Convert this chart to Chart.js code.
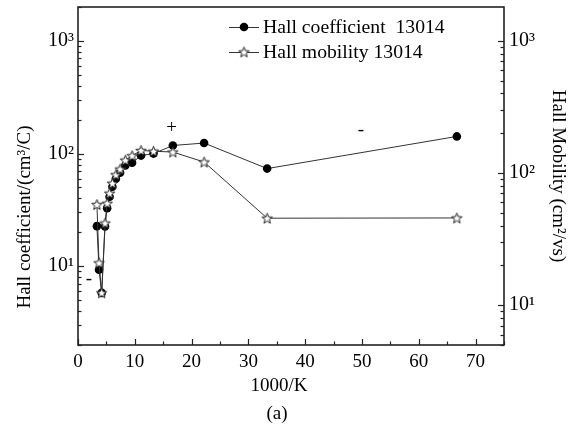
<!DOCTYPE html>
<html>
<head>
<meta charset="utf-8">
<script src="https://cdn.jsdelivr.net/npm/chart.js@4"></script>
<style>
  html, body { margin: 0; padding: 0; background: #fff; }
  #wrap { width: 574px; height: 427px; }
</style>
</head>
<body>
<div id="wrap"><canvas id="hallChart"></canvas></div>
<script>
// 1000/K values (shared by both series)
const invTemp = [3.33, 3.7, 4.17, 4.76, 5.13, 5.56, 6.06, 6.67, 7.41, 8.33, 9.52, 11.1, 13.3, 16.7, 22.2, 33.3, 66.7];
// Hall coefficient (cm3/C), left axis
const hallCoeff = [22.7, 9.3, 5.8, 22.5, 32.8, 41.4, 50.7, 59.7, 67.5, 78.3, 82.8, 96, 100, 118, 124, 73.6, 142];
// Hall mobility (cm2/vs), right axis
const hallMobility = [57.7, 20.9, 12.4, 41.8, 59, 70.3, 83.6, 97, 107, 125, 135, 148, 146, 144, 121, 45.5, 45.7];

const xTicks = [0, 10, 20, 30, 40, 50, 60, 70];
const logTicks = [10, 100, 1000];
const seriesLabels = ["Hall coefficient  13014", "Hall mobility 13014"];
// sign marks in data units of the left axis
const signMarks = [
  { text: "+", x: 16.5, y: 170 },
  { text: "-", x: 49.8, y: 163 },
  { text: "-", x: 1.9, y: 7.7 },
];

const FONT = "'Liberation Serif', 'Times New Roman', serif";
const sup = { 1: "\u00b9", 2: "\u00b2", 3: "\u00b3" };

// open five-point star marker
function makeStar(size) {
  const c = document.createElement("canvas");
  c.width = size;
  c.height = size;
  const g = c.getContext("2d");
  const cx = size / 2, cy = size / 2 + 0.5;
  const ro = size / 2 - 1, ri = ro * 0.42;
  g.beginPath();
  for (let i = 0; i < 10; i++) {
    const r = i % 2 === 0 ? ro : ri;
    const a = -Math.PI / 2 + (i * Math.PI) / 5;
    const px = cx + r * Math.cos(a), py = cy + r * Math.sin(a);
    if (i === 0) g.moveTo(px, py); else g.lineTo(px, py);
  }
  g.closePath();
  g.fillStyle = "#fff";
  g.fill();
  g.lineWidth = 1;
  g.strokeStyle = "#222";
  g.stroke();
  return c;
}
const starImg = makeStar(13);

function drawLogTicks(ctx, scale, xEdge, dir) {
  for (let d = 1; d <= 1000; d *= 10) {
    for (let m = 1; m <= 9; m++) {
      const v = m * d;
      if (v < scale.min || v > scale.max) continue;
      const y = Math.round(scale.getPixelForValue(v)) + 0.5;
      const len = m === 1 ? 6 : 3.5;
      ctx.beginPath();
      ctx.moveTo(xEdge, y);
      ctx.lineTo(xEdge + dir * len, y);
      ctx.stroke();
    }
  }
}

// no extra room for half-labels at the axis ends
function noPad(s) {
  s.paddingTop = 0;
  s.paddingBottom = 0;
  s.paddingLeft = 0;
  s.paddingRight = 0;
}

const decorations = {
  id: "decorations",
  afterDraw(chart) {
    const { ctx, chartArea: a, scales } = chart;
    ctx.save();
    // frame
    ctx.strokeStyle = "#222";
    ctx.lineWidth = 1.6;
    ctx.strokeRect(a.left, a.top, a.right - a.left, a.bottom - a.top);

    // inward ticks
    ctx.lineWidth = 1.2;
    for (let v = 0; v <= scales.x.max; v += 5) {
      const x = Math.round(scales.x.getPixelForValue(v)) + 0.5;
      const len = v % 10 === 0 ? 6 : 3.5;
      ctx.beginPath();
      ctx.moveTo(x, a.bottom);
      ctx.lineTo(x, a.bottom - len);
      ctx.stroke();
    }
    drawLogTicks(ctx, scales.y, a.left, 1);
    drawLogTicks(ctx, scales.y1, a.right, -1);

    // axis titles
    ctx.fillStyle = "#000";
    ctx.font = "19px " + FONT;
    ctx.textAlign = "center";
    ctx.textBaseline = "middle";
    ctx.save();
    ctx.translate(25, 217);
    ctx.rotate(-Math.PI / 2);
    ctx.fillText("Hall coefficient/(cm\u00b3/C)", 0, 0);
    ctx.restore();
    ctx.save();
    ctx.translate(558, (a.top + a.bottom) / 2);
    ctx.rotate(Math.PI / 2);
    ctx.fillText("Hall Mobility (cm\u00b2/vs)", 0, 0);
    ctx.restore();
    ctx.fillText("1000/K", 279, 386);
    ctx.fillText("(a)", 277, 414);

    // sign marks
    signMarks.forEach((s) => {
      ctx.fillText(s.text, scales.x.getPixelForValue(s.x), scales.y.getPixelForValue(s.y));
    });

    // legend
    const rows = [27, 52];
    ctx.font = "19.7px " + FONT;
    chart.data.datasets.forEach((ds, i) => {
      const y = rows[i];
      ctx.strokeStyle = ds.borderColor;
      ctx.lineWidth = 1;
      ctx.beginPath();
      ctx.moveTo(229, y + 0.5);
      ctx.lineTo(259, y + 0.5);
      ctx.stroke();
      if (ds.pointStyle === "circle") {
        ctx.fillStyle = "#000";
        ctx.beginPath();
        ctx.arc(244, y, 4.3, 0, Math.PI * 2);
        ctx.fill();
      } else {
        ctx.drawImage(starImg, 244 - 6.5, y - 6.5);
      }
      ctx.fillStyle = "#000";
      ctx.textAlign = "left";
      ctx.fillText(seriesLabels[i], 263, y + 1);
    });
    ctx.restore();
  },
};

Chart.defaults.font.family = FONT;
Chart.defaults.font.size = 19;
Chart.defaults.color = "#000";

const ctx = document.getElementById("hallChart").getContext("2d");
new Chart(ctx, {
  type: "line",
  data: {
    datasets: [
      {
        label: seriesLabels[0],
        data: invTemp.map((x, i) => ({ x: x, y: hallCoeff[i] })),
        yAxisID: "y",
        borderColor: "#333",
        borderWidth: 1,
        pointStyle: "circle",
        pointRadius: 4.3,
        pointBackgroundColor: "#000",
        pointBorderColor: "#000",
        pointBorderWidth: 0,
        tension: 0,
        order: 1,
      },
      {
        label: seriesLabels[1],
        data: invTemp.map((x, i) => ({ x: x, y: hallMobility[i] })),
        yAxisID: "y1",
        borderColor: "#333",
        borderWidth: 1,
        pointStyle: starImg,
        tension: 0,
        order: 0,
      },
    ],
  },
  options: {
    responsive: true,
    maintainAspectRatio: false,
    animation: false,
    devicePixelRatio: 1,
    layout: { padding: { top: 7, left: 0, right: 0, bottom: 0 } },
    plugins: { legend: { display: false }, tooltip: { enabled: false } },
    scales: {
      x: {
        type: "linear",
        min: 0,
        max: 75,
        grid: { display: false, drawTicks: false },
        border: { display: false },
        afterBuildTicks: (s) => { s.ticks = xTicks.map((v) => ({ value: v })); },
        afterFit: (s) => { s.height = 82; noPad(s); },
        ticks: { padding: 6, maxRotation: 0, autoSkip: false },
      },
      y: {
        type: "logarithmic",
        position: "left",
        min: 2,
        max: 2000,
        grid: { display: false, drawTicks: false },
        border: { display: false },
        afterBuildTicks: (s) => { s.ticks = logTicks.map((v) => ({ value: v })); },
        afterFit: (s) => { s.width = 78; noPad(s); },
        ticks: {
          padding: 4,
          autoSkip: false,
          font: { size: 20 },
          callback: (v) => "10" + sup[Math.round(Math.log10(v))],
        },
      },
      y1: {
        type: "logarithmic",
        position: "right",
        min: 5,
        max: 1800,
        grid: { display: false, drawTicks: false },
        border: { display: false },
        afterBuildTicks: (s) => { s.ticks = logTicks.map((v) => ({ value: v })); },
        afterFit: (s) => { s.width = 70; noPad(s); },
        ticks: {
          padding: 5,
          autoSkip: false,
          font: { size: 20 },
          callback: (v) => "10" + sup[Math.round(Math.log10(v))],
        },
      },
    },
  },
  plugins: [decorations],
});
</script>
</body>
</html>
